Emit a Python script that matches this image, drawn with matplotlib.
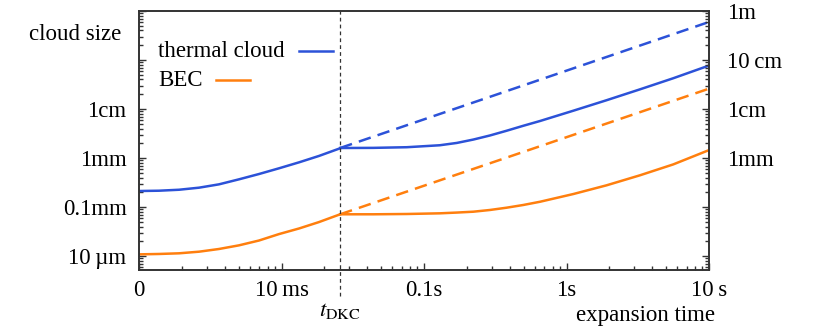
import numpy as np
import matplotlib
matplotlib.use("Agg")
import matplotlib.pyplot as plt
from matplotlib.ticker import FixedLocator, LogLocator, NullFormatter
from matplotlib.transforms import blended_transform_factory

plt.rcParams["font.family"] = ["Liberation Serif", "DejaVu Serif"]
plt.rcParams["mathtext.fontset"] = "stix"

# time in s, cloud size in mm
t_dkc = 0.0258

# before the delta-kick
t_pre = [0.001, 0.00138, 0.00191, 0.00264, 0.00364, 0.00503, 0.00695,
         0.0096, 0.0133, 0.0183, 0.0258]
thermal_pre = [0.212, 0.215, 0.225, 0.248, 0.290, 0.367, 0.471,
               0.616, 0.817, 1.10, 1.58]
bec_pre = [0.0108, 0.0110, 0.01135, 0.01225, 0.0139, 0.0165, 0.0207,
           0.0280, 0.0365, 0.0492, 0.071]

# after the kick (collimated)
t_post = [0.0258, 0.0441, 0.0757, 0.129, 0.170, 0.222, 0.290, 0.380,
          0.498, 0.652, 1.117, 1.91, 3.28, 5.61, 10.0]
thermal_post = [1.60, 1.61, 1.66, 1.82, 2.03, 2.38, 2.88, 3.60,
                4.55, 5.69, 9.23, 15.1, 25.2, 42.4, 77.0]
bec_post = [0.071, 0.071, 0.0720, 0.0743, 0.0770, 0.0802, 0.0869, 0.0968,
            0.110, 0.128, 0.184, 0.277, 0.444, 0.740, 1.45]

# free expansion without kick
t_free = [0.0258, 10.0]
thermal_free = [1.60, 597.0]
bec_free = [0.071, 26.0]

BLUE = "#2c52d8"
ORANGE = "#ff7f0e"
FS = 16.5

fig = plt.figure(figsize=(8.3, 3.31), dpi=100)
ax = fig.add_axes([139 / 830, 1 - 270 / 331, 570 / 830, 259 / 331])

lw = 1.8
dash = (0, (5.0, 2.9))
ax.plot(t_pre, thermal_pre, color=BLUE, lw=lw)
ax.plot(t_post, thermal_post, color=BLUE, lw=lw)
ax.plot(t_free, thermal_free, color=BLUE, lw=lw, ls=dash)
ax.plot(t_pre, bec_pre, color=ORANGE, lw=lw)
ax.plot(t_post, bec_post, color=ORANGE, lw=lw)
ax.plot(t_free, bec_free, color=ORANGE, lw=lw, ls=dash)

ax.set_xscale("log")
ax.set_yscale("log")
ax.set_xlim(1e-3, 10)
ax.set_ylim(0.00518, 1000)

# t_DKC marker line, running below the axis
ax.axvline(t_dkc, ymin=-0.1, ymax=1, color="#333333", lw=0.9,
           ls=(0, (3, 2.5)), clip_on=False)
trans = blended_transform_factory(ax.transData, ax.transAxes)
ax.text(t_dkc, -0.155, r"$t_{\mathrm{DKC}}$", transform=trans,
        ha="center", va="center", fontsize=FS)

# x ticks
ax.xaxis.set_major_locator(FixedLocator([1e-3, 1e-2, 0.1, 1, 10]))
ax.set_xticklabels(["0", "10\u2009ms", "0.1s", "1s", "10\u2009s"])
ax.xaxis.set_minor_locator(LogLocator(base=10, subs=np.arange(2, 10)))
ax.xaxis.set_minor_formatter(NullFormatter())

# y ticks (left)
ax.yaxis.set_major_locator(FixedLocator([0.01, 0.1, 1, 10, 100, 1000]))
ax.set_yticklabels(["10\u2009µm", "0.1mm", "1mm", "1cm", "", ""])
ax.yaxis.set_minor_locator(LogLocator(base=10, subs=np.arange(2, 10)))
ax.yaxis.set_minor_formatter(NullFormatter())

ax.tick_params(which="both", direction="in", top=False, right=False,
               labelsize=FS, color="#333333", width=1.0)
ax.tick_params(which="major", length=5)
ax.tick_params(which="minor", length=3)
ax.tick_params(axis="y", pad=9)
ax.tick_params(axis="x", pad=7)

# right axis
ax2 = ax.twinx()
ax2.set_yscale("log")
ax2.set_ylim(ax.get_ylim())
ax2.yaxis.set_major_locator(FixedLocator([0.01, 0.1, 1, 10, 100, 1000]))
ax2.set_yticklabels(["", "", "1mm", "1cm", "10\u2009cm", "1m"])
ax2.yaxis.set_minor_locator(LogLocator(base=10, subs=np.arange(2, 10)))
ax2.yaxis.set_minor_formatter(NullFormatter())
ax2.tick_params(which="both", direction="in", labelsize=FS,
                color="#333333", width=1.0, pad=13)
ax2.tick_params(which="major", length=5)
ax2.tick_params(which="minor", length=3)

for a in (ax, ax2):
    for s in a.spines.values():
        s.set_linewidth(1.2)
        s.set_color("#333333")

# axis titles
fig.text(75 / 830, 1 - 35 / 331, "cloud size", ha="center", va="center",
         fontsize=FS)
fig.text(715 / 830, 1 - 315 / 331, "expansion time", ha="right",
         va="center", fontsize=FS)

# legend: text followed by a short line
ax.text(0.033, 0.845, "thermal cloud", transform=ax.transAxes,
        ha="left", va="center", fontsize=FS)
ax.plot([0.281, 0.340], [0.845, 0.845], transform=ax.transAxes,
        color=BLUE, lw=lw)
ax.text(0.033, 0.733, "BEC", transform=ax.transAxes,
        ha="left", va="center", fontsize=FS)
ax.plot([0.135, 0.195], [0.733, 0.733], transform=ax.transAxes,
        color=ORANGE, lw=lw)

fig.savefig("out.png", dpi=100)
